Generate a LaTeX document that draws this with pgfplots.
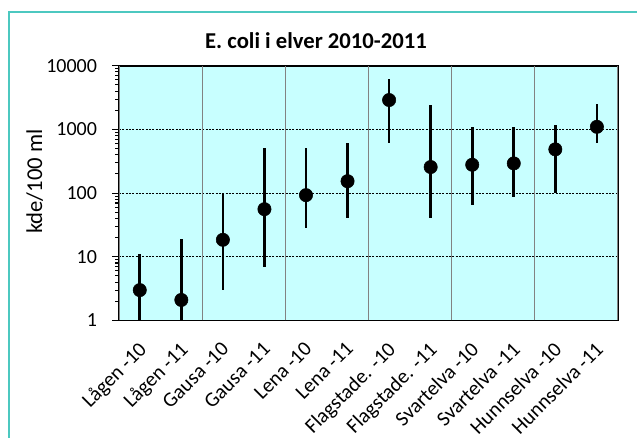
\documentclass[border=0pt]{standalone}
\usepackage{fontspec}
\setmainfont{Carlito}
\usepackage{pgfplots}
\pgfplotsset{compat=1.18}
\usepackage{pgfplotstable}

\definecolor{framecol}{RGB}{76,200,192}
\definecolor{plotbg}{RGB}{200,255,255}
\definecolor{vgrid}{RGB}{130,130,130}

% x  y  plus  minus (error bars, absolute)
\pgfplotstableread{
x   y     ep     em
0   3     8      2
1   2.1   16.9   1.1
2   18.5  81.5   15.5
3   56    454    49
4   93    417    65
5   154   451    114
6   2900  3300   2280
7   257   2143   217
8   279   801    214
9   293   787    205
10  487   693    387
11  1100  1400   480
}\ecoli

\begin{document}
\begin{tikzpicture}
  \clip (0,0) rectangle (477.75pt,327.75pt);
  \fill[white] (0,0) rectangle (477.75pt,327.75pt);
  \draw[framecol, line width=1.6pt] (6.5pt,-10pt) rectangle (490pt,318.5pt);
  \node[font=\fontsize{17}{20}\selectfont\bfseries] at (237pt,297.5pt) {E. coli i elver 2010-2011};
  \begin{axis}[
      at={(89.25pt,87.4pt)},
      anchor=south west,
      scale only axis,
      width=374pt,
      height=191pt,
      axis background/.style={fill=plotbg},
      axis line style={black, line width=1.4pt},
      ymode=log,
      ymin=1, ymax=10000,
      ytick={1,10,100,1000,10000},
      yticklabels={1,10,100,1000,10000},
      ymajorgrids,
      y grid style={black, line width=0.5pt, dash pattern=on 1.5pt off 1pt},
      ytick style={black, line width=0.8pt},
      ytick pos=left,
      tick align=outside,
      major tick length=5pt,
      yticklabel style={font=\fontsize{15}{18}\selectfont, xshift=-8pt},
      xmin=-0.5, xmax=11.5,
      xtick={0,...,11},
      xticklabels={Lågen -10,Lågen -11,Gausa -10,Gausa -11,Lena -10,Lena -11,
        Flagstade. -10,Flagstade. -11,Svartelva -10,Svartelva -11,Hunnselva -10,Hunnselva -11},
      xtick style={draw=none},
      xticklabel style={font=\fontsize{15.5}{18}\selectfont, xshift=-2pt, yshift=-8.5pt, rotate=45, anchor=north east, inner sep=1pt},
      extra x ticks={-0.5,1.5,3.5,5.5,7.5,9.5,11.5},
      extra x tick labels={},
      extra x tick style={
        xmajorgrids,
        major grid style={vgrid, line width=0.7pt},
        tick style={vgrid, line width=0.8pt},
        major tick length=5pt,
      },
      /pgf/number format/assume math mode=true,
      clip=false,
    ]
    \addplot[
      only marks,
      mark=*,
      mark size=5pt,
      mark options={fill=black, draw=black},
      error bars/.cd,
        y dir=both,
        y explicit,
        error mark=none,
        error bar style={black, line width=2pt},
    ] table[x=x, y=y, y error plus=ep, y error minus=em] {\ecoli};
  \end{axis}
  \node[rotate=90, font=\fontsize{17}{20}\selectfont] at (26pt,191.5pt) {kde/100 ml};
\end{tikzpicture}
\end{document}
